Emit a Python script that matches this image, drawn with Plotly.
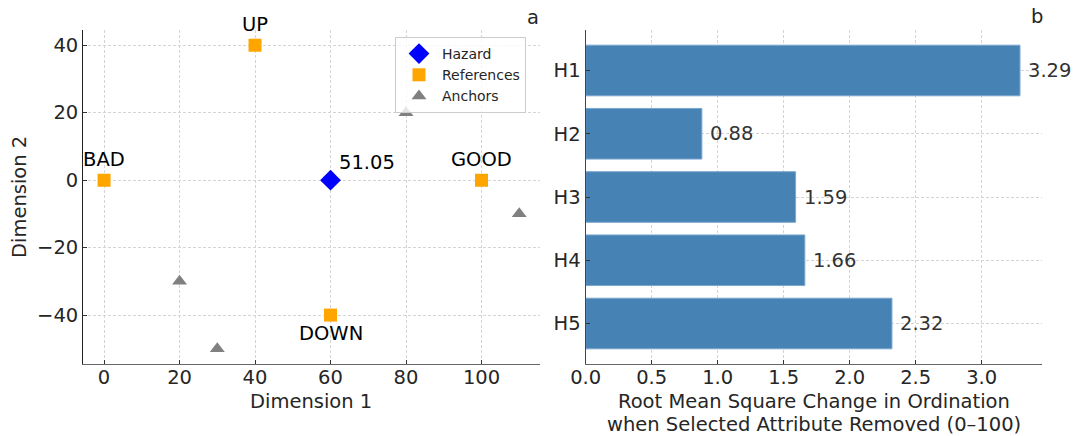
import plotly.graph_objects as go

# ---- data ----
hazard_x = [60]
hazard_y = [0]
hazard_label = ["51.05"]

ref_names = ["BAD", "GOOD", "UP", "DOWN"]
ref_x = [0, 100, 40, 60]
ref_y = [0, 0, 40, -40]
ref_pos = ["above", "above", "above", "below"]

anchor_x = [20, 30, 80, 110]
anchor_y = [-30, -50, 20, -10]

bar_cats = ["H1", "H2", "H3", "H4", "H5"]
bar_vals = [3.29, 0.88, 1.59, 1.66, 2.32]

FONT = "DejaVu Sans"
TXT = "#262626"
GRID = "#d4d4d4"
FS = 19.5

W, H = 1075, 436


def px(x):
    return x / W


def py(y):
    return 1 - y / H


fig = go.Figure()

fig.add_trace(go.Scatter(x=hazard_x, y=hazard_y, mode="markers", name="Hazard",
                         marker=dict(symbol="diamond", size=16, color="#0000FF"),
                         xaxis="x", yaxis="y"))
fig.add_trace(go.Scatter(x=ref_x, y=ref_y, mode="markers", name="References",
                         marker=dict(symbol="square", size=13, color="#FFA500"),
                         xaxis="x", yaxis="y"))
fig.add_trace(go.Scatter(x=anchor_x, y=anchor_y, mode="markers", name="Anchors",
                         marker=dict(symbol="triangle-up", size=13, color="#808080"),
                         xaxis="x", yaxis="y"))

fig.add_trace(go.Bar(x=bar_vals, y=bar_cats, orientation="h", width=0.8,
                     marker=dict(color="#4682B4", line=dict(color="#7aa6cf", width=1)),
                     showlegend=False, xaxis="x2", yaxis="y2"))

annotations = []
for n, x, y, p in zip(ref_names, ref_x, ref_y, ref_pos):
    annotations.append(dict(x=x, y=y, xref="x", yref="y", text=n, showarrow=False,
                            font=dict(family=FONT, size=FS, color="black"),
                            yshift=21 if p == "above" else -18))
for x, y, t in zip(hazard_x, hazard_y, hazard_label):
    annotations.append(dict(x=x, y=y, xref="x", yref="y", text=t, showarrow=False,
                            xanchor="left", xshift=6, yshift=18,
                            font=dict(family=FONT, size=FS, color="black")))
for c, v in zip(bar_cats, bar_vals):
    annotations.append(dict(x=v, y=c, xref="x2", yref="y2", text=f"{v:.2f}", showarrow=False,
                            xanchor="left", xshift=6,
                            font=dict(family=FONT, size=FS, color="#333333")))

annotations += [
    dict(x=px(533), y=py(17), text="a", font=dict(family=FONT, size=FS, color=TXT)),
    dict(x=px(1037), y=py(16), text="b", font=dict(family=FONT, size=FS, color=TXT)),
    dict(x=px(311), y=py(401), text="Dimension 1", font=dict(family=FONT, size=FS, color=TXT)),
    dict(x=px(19), y=py(197), text="Dimension 2", textangle=-90, font=dict(family=FONT, size=FS, color=TXT)),
    dict(x=px(814), y=py(401), text="Root Mean Square Change in Ordination",
         font=dict(family=FONT, size=FS, color=TXT)),
    dict(x=px(814), y=py(424), text="when Selected Attribute Removed (0–100)",
         font=dict(family=FONT, size=FS, color=TXT)),
]
for a in annotations[-6:]:
    a.update(xref="paper", yref="paper", showarrow=False, xanchor="center", yanchor="middle")

ax_common = dict(showline=True, linewidth=1.3, ticks="inside", ticklen=4,
                 tickcolor="#333333", showgrid=True, gridcolor=GRID, griddash="3px,2px", gridwidth=0.8,
                 zeroline=False, tickfont=dict(family=FONT, size=FS, color=TXT), mirror=False,
                 automargin=False)

fig.update_layout(
    width=W, height=H, margin=dict(l=0, r=0, t=0, b=0, autoexpand=False),
    paper_bgcolor="white", plot_bgcolor="white",
    font=dict(family=FONT, color=TXT),
    xaxis=dict(domain=[px(83.3), px(540)], range=[-5.5, 115.5], tickvals=[0, 20, 40, 60, 80, 100],
               anchor="y", linecolor="#666666", ticklabelstandoff=-5, **ax_common),
    yaxis=dict(domain=[py(364), py(30)], range=[-54.5, 44.5], tickvals=[-40, -20, 0, 20, 40],
               anchor="x", linecolor="#222222", **ax_common),
    xaxis2=dict(domain=[px(585.7), px(1041.7)], range=[0, 3.4545],
                tickvals=[0, 0.5, 1, 1.5, 2, 2.5, 3], ticktext=["0.0", "0.5", "1.0", "1.5", "2.0", "2.5", "3.0"],
                anchor="y2", linecolor="#666666", ticklabelstandoff=-5, **ax_common),
    yaxis2=dict(domain=[py(364), py(30)], range=[4.64, -0.64], anchor="x2", linecolor="#444444",
                categoryorder="array", categoryarray=bar_cats, **ax_common),
    legend=dict(x=px(395), y=py(37), xanchor="left", yanchor="top",
                bgcolor="rgba(255,255,255,0.8)", bordercolor="#cccccc", borderwidth=1,
                font=dict(family=FONT, size=14, color=TXT), itemwidth=36),
    annotations=annotations,
    barmode="overlay",
)

fig.write_html("out.html", config={"displayModeBar": False},
               post_script="document.body.style.margin='0';document.body.style.padding='0';")
